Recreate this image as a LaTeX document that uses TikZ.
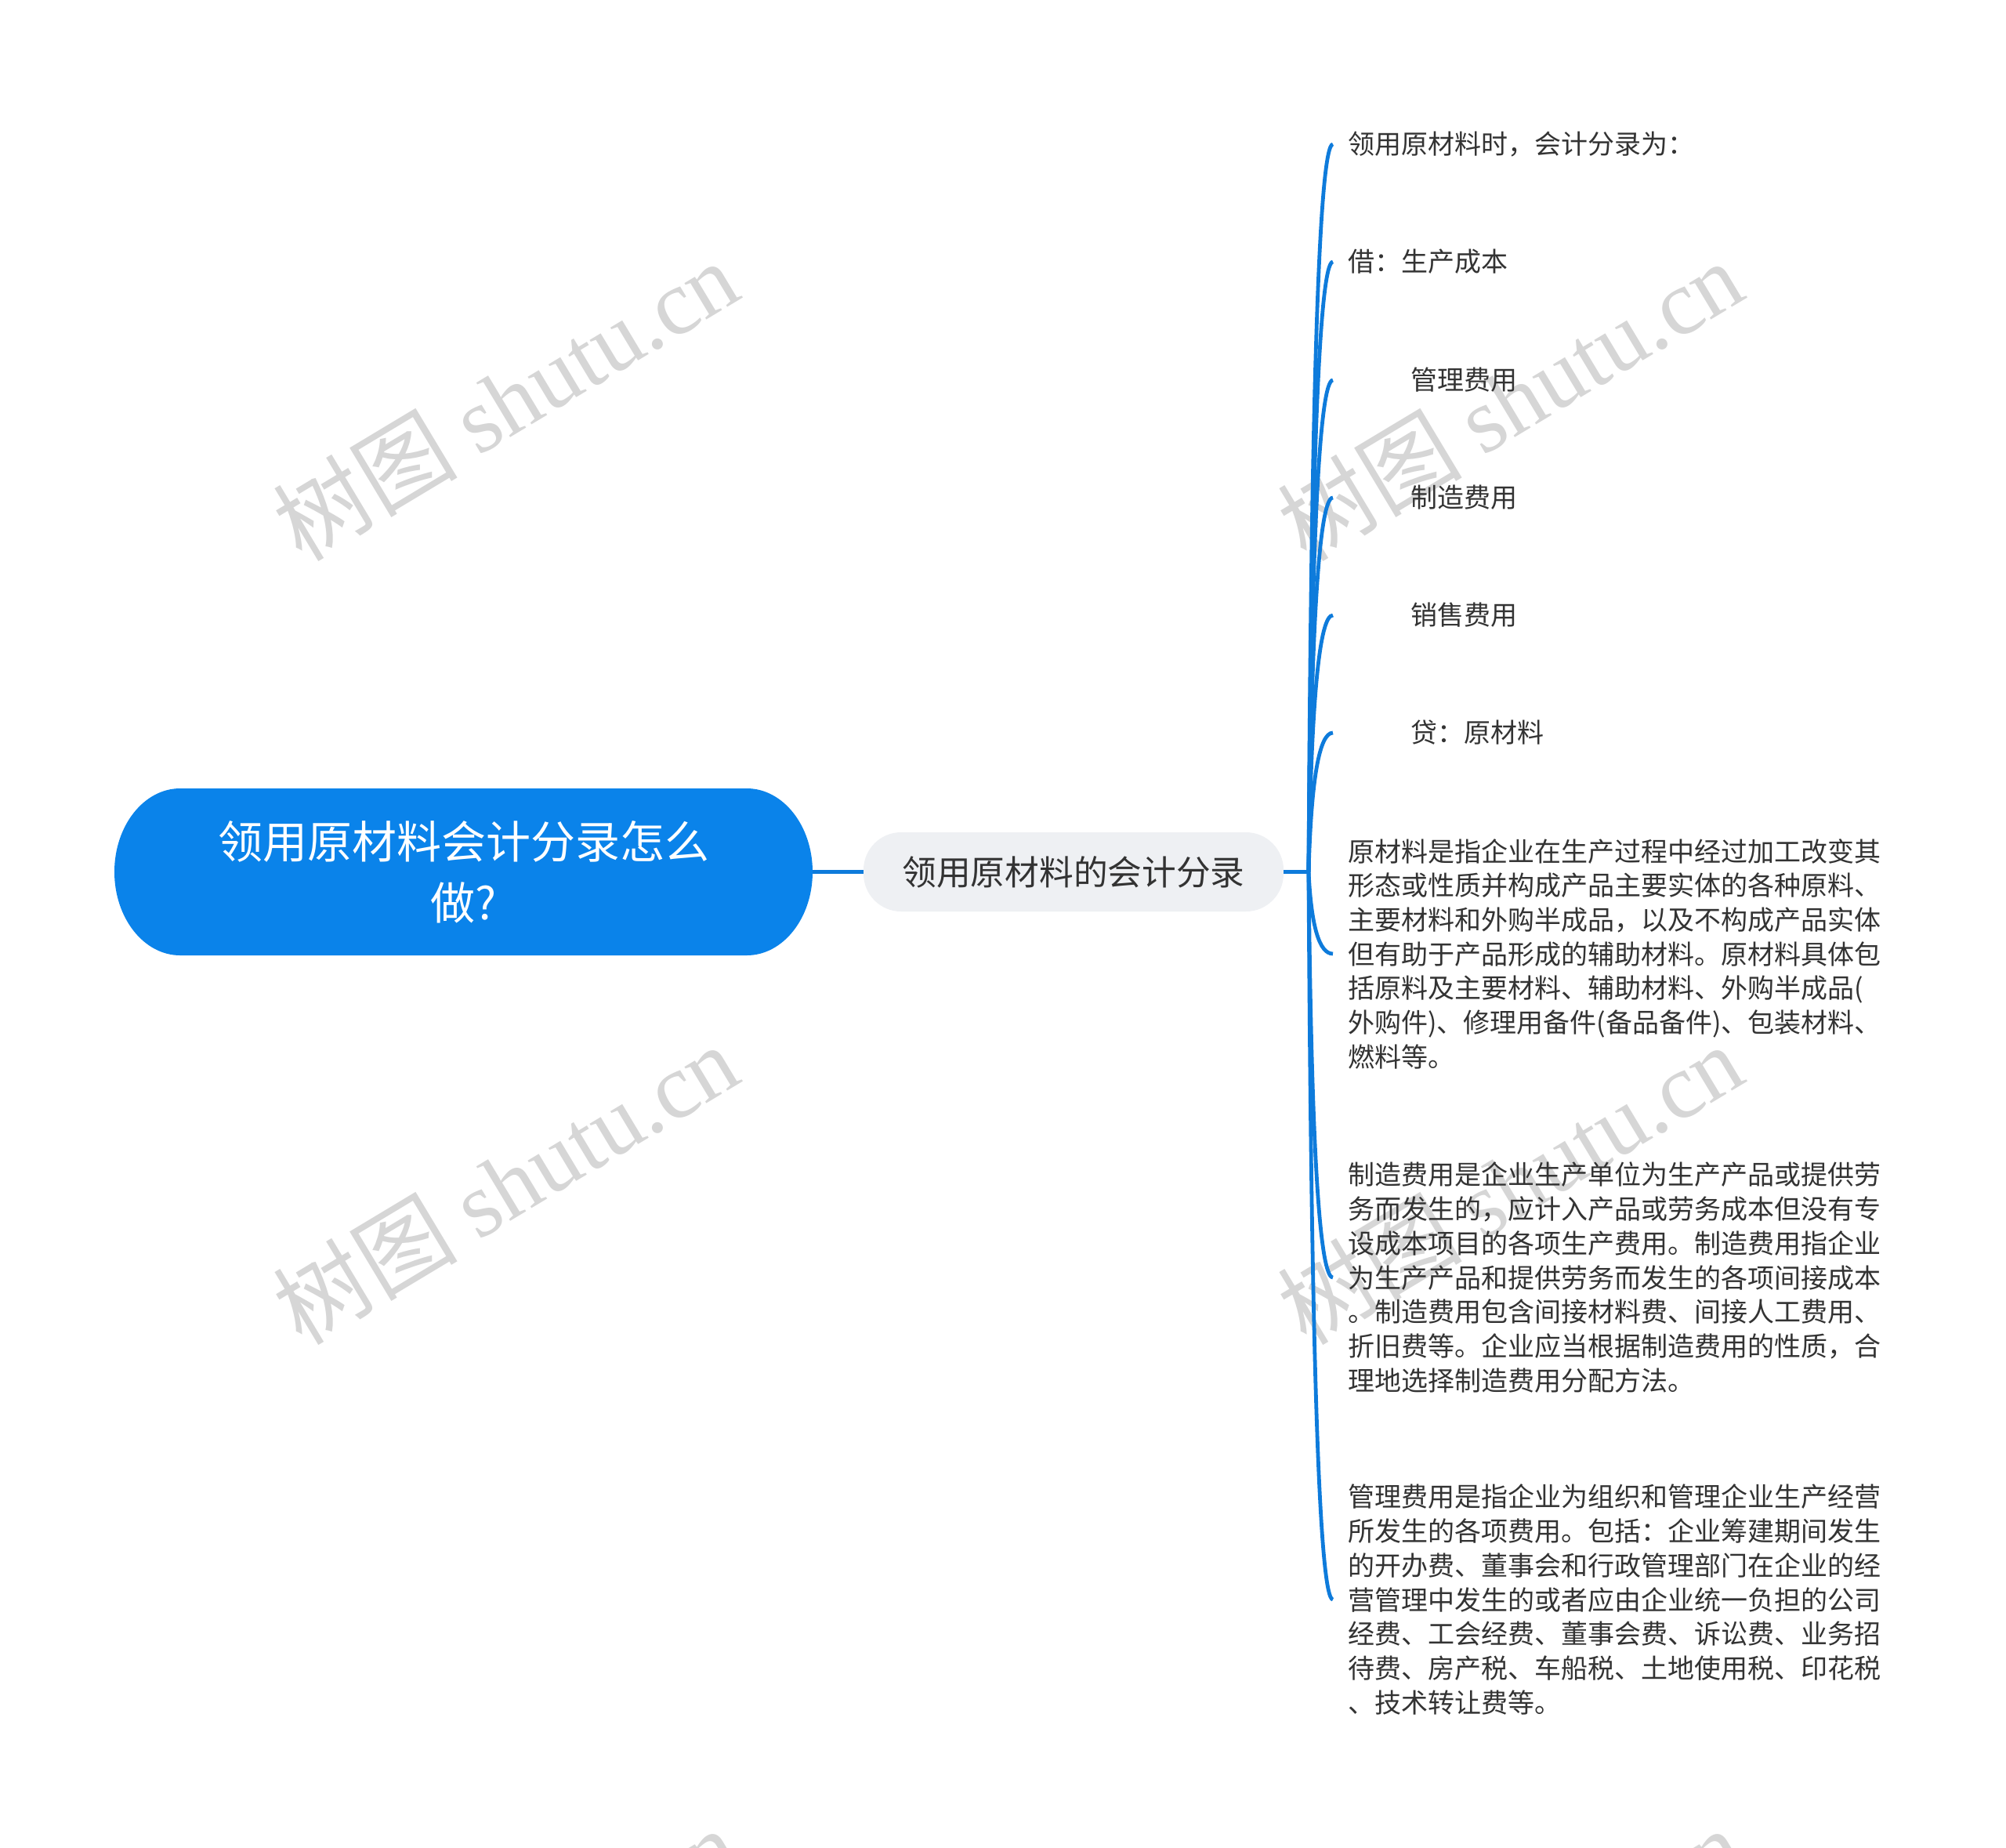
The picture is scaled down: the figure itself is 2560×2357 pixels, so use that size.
\documentclass[tikz,border=0pt]{standalone}
\usepackage{fontspec}
\setmainfont{Noto Sans CJK SC}
\newfontfamily\wmlatin{Liberation Serif}
\usetikzlibrary{calc}
\definecolor{rootblue}{RGB}{10,131,234}
\definecolor{lineblue}{RGB}{14,123,219}
\definecolor{midfill}{RGB}{238,240,243}
\definecolor{txt}{RGB}{51,51,51}
\definecolor{wmgray}{RGB}{214,214,214}
\begin{document}
\begin{tikzpicture}[x=0.5pt,y=-0.5pt,
  rootnode/.style={text=white, align=center, font=\fontsize{28.5pt}{39pt}\selectfont, minimum width=445.5pt, minimum height=106.5pt, inner sep=0pt},
  midnode/.style={fill=midfill, rounded corners=24pt, text=txt, font=\fontsize{21.85pt}{26pt}\selectfont, minimum width=268pt, minimum height=50.5pt, inner sep=0pt},
  leaf/.style={anchor=west, align=left, text=txt, font=\fontsize{17pt}{21.85pt}\selectfont, inner xsep=9.5pt, inner ysep=0pt},
  conn/.style={draw=lineblue, line width=2.4pt},
  wm/.style={text=wmgray, rotate=31, font=\fontsize{59pt}{59pt}\selectfont}
]
\useasboundingbox (0,0) rectangle (2560,2357);
\fill[white] (0,0) rectangle (2560,2357);
\begin{scope}
\clip (0,0) rectangle (2560,2357);
\foreach \wx/\wy in {645/510, 1927/510, 645/1510, 1927/1510, 645/2510, 1927/2510}
  \node[wm] (wm-\wx-\wy) at (\wx,\wy) {树图 {\wmlatin shutu.cn}};
\end{scope}

% root shape
\fill[rootblue] (230,1006) -- (953,1006) arc[start angle=90,end angle=-90,x radius=42pt,y radius=53.25pt]
  -- (230,1219) arc[start angle=270,end angle=90,x radius=42pt,y radius=53.25pt] -- cycle;
\node[rootnode] (root) at (591.5,1112.5) {领用原材料会计分录怎么\\做?};

\node[midnode] (mid) at (1370,1112.5) {领用原材料的会计分录};
\draw[conn, line width=2.5pt] (root.east) -- (mid.west);
\coordinate (J) at (1670,1112.5);
\draw[conn] (mid.east) -- (J);

\node[leaf] (l1) at (1701,184) {领用原材料时，会计分录为：};
\node[leaf] (l2) at (1701,334) {借：生产成本};
\node[leaf] (l3) at (1701,485) {\hspace*{40pt}管理费用};
\node[leaf] (l4) at (1701,635) {\hspace*{40pt}制造费用};
\node[leaf] (l5) at (1701,785) {\hspace*{40pt}销售费用};
\node[leaf] (l6) at (1701,935) {\hspace*{40pt}贷：原材料};
\node[leaf] (l7) at (1701,1217) {原材料是指企业在生产过程中经过加工改变其\\形态或性质并构成产品主要实体的各种原料、\\主要材料和外购半成品，以及不构成产品实体\\但有助于产品形成的辅助材料。原材料具体包\\括原料及主要材料、辅助材料、外购半成品(\\外购件)、修理用备件(备品备件)、包装材料、\\燃料等。};
\node[leaf] (l8) at (1701,1630) {制造费用是企业生产单位为生产产品或提供劳\\务而发生的，应计入产品或劳务成本但没有专\\设成本项目的各项生产费用。制造费用指企业\\为生产产品和提供劳务而发生的各项间接成本\\。制造费用包含间接材料费、间接人工费用、\\折旧费等。企业应当根据制造费用的性质，合\\理地选择制造费用分配方法。};
\node[leaf] (l9) at (1701,2041) {管理费用是指企业为组织和管理企业生产经营\\所发生的各项费用。包括：企业筹建期间发生\\的开办费、董事会和行政管理部门在企业的经\\营管理中发生的或者应由企业统一负担的公司\\经费、工会经费、董事会费、诉讼费、业务招\\待费、房产税、车船税、土地使用税、印花税\\、技术转让费等。};

\foreach \n in {l1,l2,l3,l4,l5,l6,l7,l8,l9} {
  \coordinate (C\n) at ($(J |- \n.west)+(5,0)$);
  \draw[conn] (J) .. controls ($(J)!0.6667!(C\n)$) and ($(\n.west)!0.6667!(C\n)$) .. (\n.west);
}
\end{tikzpicture}
\end{document}
